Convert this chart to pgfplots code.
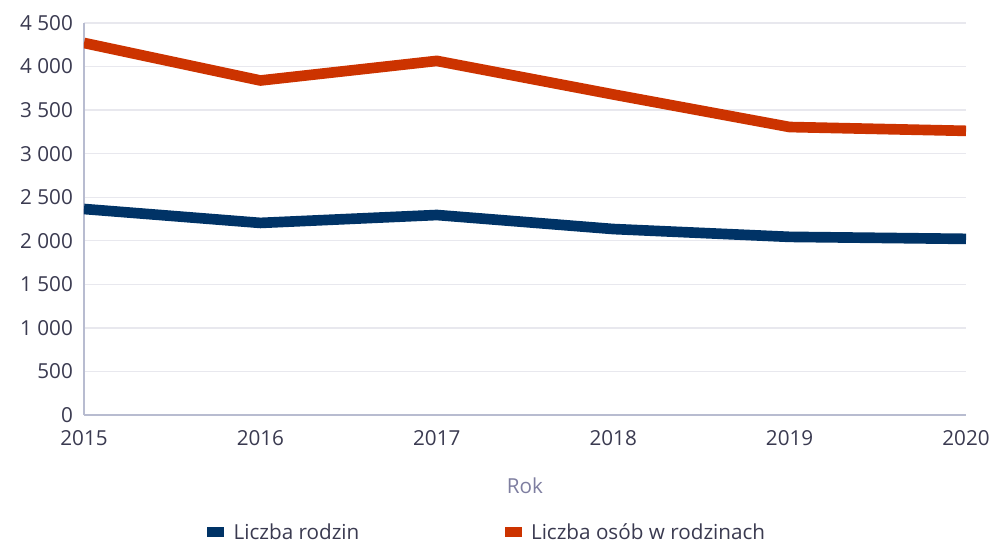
\documentclass[border=0pt]{standalone}
\usepackage{fontspec}
\setmainfont{Open Sans}
\usepackage{pgfplots}
\pgfplotsset{compat=1.18}
\definecolor{navy}{HTML}{003366}
\definecolor{rust}{HTML}{CC3300}
\definecolor{txt}{HTML}{3A3A50}
\definecolor{gridc}{HTML}{E8E8EE}
\definecolor{axc}{HTML}{B8BCD0}
\definecolor{labc}{HTML}{7E7EA0}
\begin{document}
\fontsize{15.5pt}{18pt}\selectfont
\begin{tikzpicture}
\path[use as bounding box] (-63pt,-96.75pt) rectangle (680.25pt,311.25pt);
\begin{axis}[
  at={(0,0)}, anchor=south west,
  scale only axis, width=661.5pt, height=294pt,
  xmin=2015, xmax=2020, ymin=0, ymax=4500,
  xtick={2015,2016,2017,2018,2019,2020},
  ytick={0,500,1000,1500,2000,2500,3000,3500,4000,4500},
  xticklabel style={/pgf/number format/1000 sep={}, yshift=-6pt},
  /pgf/number format/assume math mode=true,
  yticklabel style={/pgf/number format/1000 sep={\ }, xshift=-3pt},
  ymajorgrids, grid style={gridc, line width=1pt},
  axis x line*=bottom, axis y line*=left,
  axis line style={axc, line width=1pt, -},
  major tick length=0pt,
  tick label style={txt, font=\fontsize{15.5pt}{18pt}\selectfont},
  xlabel={Rok},
  xlabel style={labc, font=\fontsize{15.5pt}{18pt}\selectfont, at={(axis description cs:0.5,0)}, anchor=center, yshift=-53pt},
  legend columns=2,
  legend style={at={(0.4575,-0.302)}, anchor=center, draw=none, fill=none, text=txt,
     font=\fontsize{15.5pt}{18pt}\selectfont,
     /tikz/every even column/.append style={column sep=107pt}},
  legend image code/.code={\fill[#1, draw=none, line width=0pt] (0pt,-2.5pt) rectangle (12.75pt,5pt); \path[draw=none, fill=none] (12.75pt,0pt) -- (17.75pt,0pt);},
  line join=round,
]
\addplot[navy, line width=8pt] coordinates {
(2015,2365) (2016,2205) (2017,2296) (2018,2135) (2019,2045) (2020,2022)};
\addlegendentry{Liczba rodzin}
\addplot[rust, line width=8pt] coordinates {
(2015,4271) (2016,3840) (2017,4065) (2018,3680) (2019,3306) (2020,3262)};
\addlegendentry{Liczba osób w rodzinach}
\end{axis}
\end{tikzpicture}
\end{document}
